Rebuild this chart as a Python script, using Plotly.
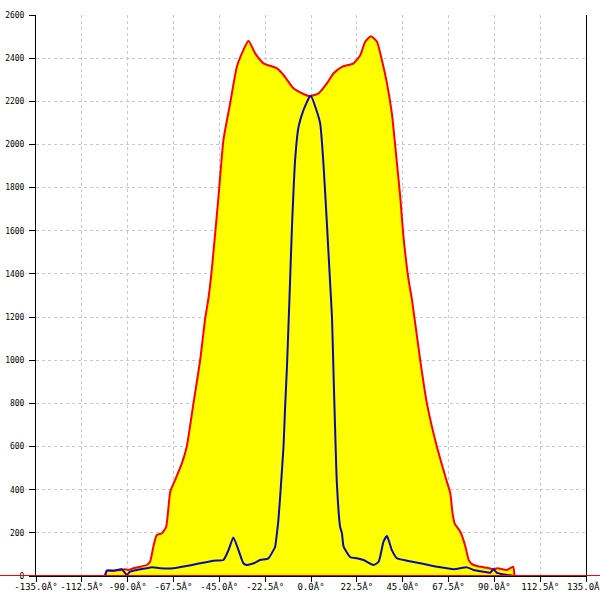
import plotly.graph_objects as go

# Outer (red) envelope, angle in degrees
red_angle = [-101.1, -100.2, -97.0, -93.7, -91.3, -89.6, -87.2, -83.9, -80.6, -79.0,
             -77.4, -75.7, -73.2, -71.1, -69.1, -66.7, -63.4, -61.0, -57.7, -54.4,
             -52.0, -50.3, -48.7, -45.4, -43.0, -39.7, -36.4, -33.2, -30.7, -27.4,
             -23.3, -16.7, -13.5, -8.6, -3.7, -0.4, 3.7, 7.8, 11.1, 15.2,
             20.9, 24.2, 26.6, 29.4, 32.4, 34.8, 37.3, 39.7, 42.2, 43.8,
             45.4, 47.9, 49.6, 53.6, 56.9, 61.8, 66.7, 68.4, 69.5, 70.5,
             73.3, 75.7, 77.4, 79.0, 81.5, 86.4, 89.6, 91.5, 96.2, 99.2, 99.9]
red_value = [0, 25, 23, 28, 31, 28, 36, 43, 51, 66,
             136, 190, 198, 228, 391, 445, 522, 599, 800, 1001,
             1190, 1290, 1420, 1760, 2020, 2190, 2360, 2437, 2481, 2422,
             2376, 2353, 2322, 2260, 2234, 2224, 2237, 2283, 2330, 2360,
             2376, 2414, 2476, 2502, 2476, 2391, 2283, 2144, 1912, 1758,
             1572, 1372, 1279, 1001, 800, 599, 437, 383, 290, 244,
             205, 140, 75, 55, 46, 38, 31, 36, 28, 43, 0]

# Inner (blue) curve
blue_angle = [-101.1, -100.2, -97.0, -92.9, -90.4, -88.8, -85.5, -80.6, -78.1, -74.1,
              -67.5, -61.0, -54.4, -47.9, -43.0, -40.5, -38.1, -35.6, -33.2, -31.5,
              -28.2, -25.0, -20.9, -18.4, -17.6, -16.7, -16.0, -14.8, -13.5, -12.7,
              -11.8, -10.6, -9.4, -7.8, -6.1, -3.7, -0.7, 0.0, 2.1, 4.5,
              6.1, 7.8, 9.4, 10.3, 11.1, 11.9, 12.7, 14.3, 15.2, 16.0,
              19.3, 22.5, 25.8, 30.7, 33.2, 35.6, 37.3, 39.7, 42.2, 47.1,
              53.6, 61.8, 70.0, 76.6, 79.8, 84.7, 88.0, 89.6, 91.3, 96.2, 99.5]
blue_value = [0, 25, 25, 31, 5, 20, 28, 36, 40, 36,
              36, 46, 59, 71, 74, 120, 179, 120, 59, 51,
              59, 74, 82, 120, 136, 200, 260, 414, 599, 785,
              970, 1279, 1603, 1928, 2082, 2159, 2221, 2225, 2175, 2098,
              1912, 1634, 1356, 1200, 924, 661, 430, 228, 198, 136,
              87, 82, 74, 51, 66, 159, 185, 120, 82, 71,
              59, 43, 31, 40, 28, 20, 15, 31, 15, 5, 0]

x_ticks = [-135 + 22.5 * i for i in range(13)]
x_ticktext = [f"{v:.1f}Â°" for v in x_ticks]
y_ticks = list(range(0, 2601, 200))

fig = go.Figure()
fig.add_trace(go.Scatter(x=red_angle, y=red_value, mode="lines", fill="tozeroy",
                         fillcolor="#ffff00",
                         line=dict(color="#ff0000", width=2, shape="spline", smoothing=0.5),
                         hoverinfo="skip", showlegend=False))
fig.add_trace(go.Scatter(x=blue_angle, y=blue_value, mode="lines",
                         line=dict(color="#0a0ab4", width=2, shape="spline", smoothing=0.5),
                         hoverinfo="skip", showlegend=False))

W, H = 600, 600
ml, mr, mt, mb = 36, 14, 15, 24
pw = W - ml - mr

fig.add_shape(type="line", xref="paper", yref="y", x0=-ml / pw, x1=1 + mr / pw,
              y0=0, y1=0, line=dict(color="#ff0000", width=2))

grid = dict(showgrid=True, gridcolor="#c8c8c8", gridwidth=1, griddash="3px,3px")
fig.update_layout(
    width=W, height=H,
    margin=dict(l=ml, r=mr, t=mt, b=mb),
    plot_bgcolor="white", paper_bgcolor="white",
    xaxis=dict(range=[-135, 135], tickvals=x_ticks, ticktext=x_ticktext,
               tickangle=0, automargin=False, ticklabeloverflow="allow",
               ticklabelstandoff=-3,
               ticks="outside", ticklen=5, tickcolor="black", showline=True,
               linecolor="black", linewidth=1, zeroline=False,
               tickfont=dict(family="DejaVu Sans Mono", size=9, color="black"),
               **grid),
    yaxis=dict(range=[0, 2600], tickvals=y_ticks, ticks="outside", ticklen=6,
               automargin=False, ticklabeloverflow="allow",
               tickcolor="black", showline=True, linecolor="black", linewidth=1,
               mirror=True, zeroline=False, ticklabelstandoff=3,
               tickfont=dict(family="DejaVu Sans Mono", size=8, color="black"),
               **grid),
)

fig.write_html("out.html", config={"displayModeBar": False},
               post_script="document.body.style.margin='0';document.body.style.overflow='hidden';")
